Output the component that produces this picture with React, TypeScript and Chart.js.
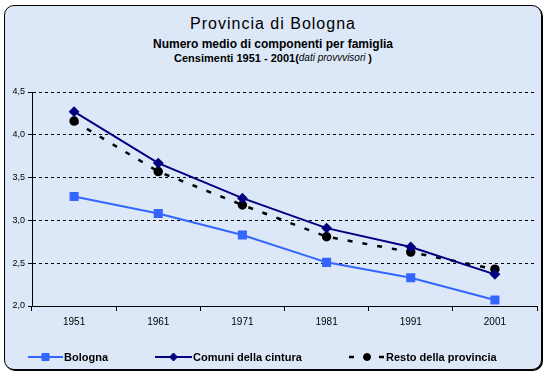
import React, { useEffect, useRef } from "react";
import { Chart, registerables } from "chart.js";
import { drawPoint } from "chart.js/helpers";

Chart.register(...registerables);

const years = ["1951", "1961", "1971", "1981", "1991", "2001"];
const bologna = [3.28, 3.08, 2.83, 2.51, 2.33, 2.07];
const cintura = [4.27, 3.67, 3.26, 2.91, 2.69, 2.37];
const resto = [4.16, 3.57, 3.18, 2.81, 2.63, 2.43];
const seriesNames = ["Bologna", "Comuni della cintura", "Resto della provincia"];
const yMin = 2.0;
const yMax = 4.5;
const yStep = 0.5;

const FONT = "Arial, 'Liberation Sans', sans-serif";
const LEGEND_POS = [
  { x0: 28, x1: 63 },
  { x0: 155, x1: 192 },
  { x0: 349, x1: 385 },
];
const LEGEND_Y = 357;

const legendPlugin = {
  id: "lineLegend",
  afterDraw(chart: any) {
    const ctx = chart.ctx;
    chart.data.datasets.forEach((ds: any, i: number) => {
      const p = LEGEND_POS[i];
      ctx.save();
      ctx.strokeStyle = ds.borderColor;
      ctx.lineWidth = ds.borderWidth;
      ctx.setLineDash(ds.borderDash || []);
      ctx.beginPath();
      ctx.moveTo(p.x0, LEGEND_Y);
      ctx.lineTo(p.x1, LEGEND_Y);
      ctx.stroke();
      ctx.setLineDash([]);
      ctx.fillStyle = ds.pointBackgroundColor;
      ctx.strokeStyle = ds.pointBorderColor;
      ctx.lineWidth = 1;
      drawPoint(ctx, { pointStyle: ds.pointStyle, radius: ds.pointRadius, rotation: 0, borderWidth: 1 } as any, (p.x0 + p.x1) / 2, LEGEND_Y);
      ctx.fillStyle = "#000";
      ctx.font = `bold 11px ${FONT}`;
      ctx.textBaseline = "middle";
      ctx.textAlign = "left";
      ctx.fillText(ds.label, p.x1 + 1, LEGEND_Y + 0.5);
      ctx.restore();
    });
  },
};

export default function App() {
  const ref = useRef<HTMLCanvasElement>(null);
  useEffect(() => {
    document.body.style.margin = "0";
    const chart = new Chart(ref.current!, {
      type: "line",
      data: {
        labels: years,
        datasets: [
          {
            label: seriesNames[0],
            data: bologna,
            borderColor: "#3366FF",
            backgroundColor: "#3366FF",
            pointBackgroundColor: "#3366FF",
            pointBorderColor: "#3366FF",
            borderWidth: 2,
            pointStyle: "rect",
            pointRadius: 5,
            tension: 0,
          },
          {
            label: seriesNames[1],
            data: cintura,
            borderColor: "#000080",
            backgroundColor: "#000080",
            pointBackgroundColor: "#000080",
            pointBorderColor: "#000080",
            borderWidth: 2,
            pointStyle: "rectRot",
            pointRadius: 4,
            tension: 0,
          },
          {
            label: seriesNames[2],
            data: resto,
            borderColor: "#000000",
            backgroundColor: "#000000",
            pointBackgroundColor: "#000000",
            pointBorderColor: "#000000",
            borderWidth: 2.5,
            borderDash: [5, 10],
            pointStyle: "circle",
            pointRadius: 3.5,
            tension: 0,
          },
        ] as any,
      },
      options: {
        animation: false,
        responsive: false,
        devicePixelRatio: 1,
        layout: { padding: { left: 0, right: 10, top: 92, bottom: 39 } },
        plugins: {
          legend: { display: false },
          title: { display: false },
          tooltip: { enabled: false },
        },
        scales: {
          x: {
            offset: true,
            grid: { offset: true, drawOnChartArea: false, drawTicks: true, tickLength: 5, color: "#000" },
            border: { color: "#000", width: 1 },
            ticks: { color: "#000", font: { family: FONT, size: 10 }, padding: 5, maxRotation: 0 },
            afterFit: (s: any) => { s.height = 30; },
          },
          y: {
            min: yMin,
            max: yMax,
            grid: { color: "#000", lineWidth: 1, tickLength: 4, tickBorderDash: [] },
            border: { color: "#000", width: 1, dash: [3, 3] },
            ticks: {
              stepSize: yStep,
              color: "#000",
              font: { family: FONT, size: 9 },
              padding: 3,
              callback: (v: any) => Number(v).toFixed(1).replace(".", ","),
            },
            afterFit: (s: any) => { s.width = 32; },
          },
        },
      } as any,
      plugins: [legendPlugin],
    });
    return () => chart.destroy();
  }, []);

  return (
    <div style={{ position: "relative", width: 547, height: 375, background: "#fff", overflow: "hidden" }}>
      <div
        style={{
          position: "absolute",
          left: 4,
          top: 5,
          width: 536,
          height: 363,
          border: "1px solid #000",
          borderRadius: 10,
          background: "#DCE8F8",
          boxShadow: "1px 1px 0 #000",
        }}
      />
      <div style={{ position: "absolute", left: 4, width: 538, top: 15.5, textAlign: "center", font: `16px ${FONT}`, lineHeight: "16px", letterSpacing: 1, color: "#000", whiteSpace: "nowrap" }}>
        Provincia di Bologna
      </div>
      <div style={{ position: "absolute", left: 4, width: 538, top: 38, textAlign: "center", font: `bold 12px ${FONT}`, lineHeight: "12px", color: "#000", whiteSpace: "nowrap" }}>
        Numero medio di componenti per famiglia
      </div>
      <div style={{ position: "absolute", left: 4, width: 538, top: 52.5, textAlign: "center", font: `bold 11px ${FONT}`, lineHeight: "11px", color: "#000", whiteSpace: "nowrap" }}>
        Censimenti 1951 - 2001(
        <span style={{ fontWeight: "normal", fontStyle: "italic", fontSize: 10, position: "relative", top: -1 }}>dati provvvisori </span>)
      </div>
      <canvas ref={ref} width={547} height={375} style={{ position: "absolute", left: 0, top: 0 }} />
    </div>
  );
}
